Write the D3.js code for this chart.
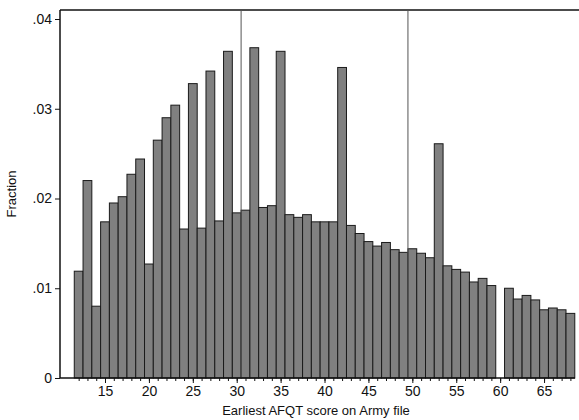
<!DOCTYPE html>
<html><head><meta charset="utf-8">
<script src="https://cdn.jsdelivr.net/npm/d3@7/dist/d3.min.js"></script>
<style>body{margin:0;background:#fff}svg{display:block;font-family:"Liberation Sans",Arial,sans-serif}</style>
</head><body>
<svg id="c" width="579" height="420"></svg>
<script>
const scores = d3.range(12, 69).filter(s => s !== 60);
const fractions = [
  0.0119,0.0220,0.0080,0.0174,0.0195,0.0202,0.0227,0.0244,0.0127,0.0265,
  0.0290,0.0304,0.0166,0.0328,0.0167,0.0342,0.0175,0.0364,0.0184,0.0187,
  0.0368,0.0190,0.0192,0.0364,0.0182,0.0179,0.0182,0.0174,0.0174,0.0174,
  0.0346,0.0170,0.0161,0.0152,0.0147,0.0151,0.0143,0.0140,0.0144,0.0139,
  0.0134,0.0261,0.0125,0.0121,0.0118,0.0107,0.0111,0.0103,
  0.0100,0.0088,0.0092,0.0087,0.0076,0.0078,0.0076,0.0072
];
const refLines = [30.5, 49.5];
const xTicks = [15,20,25,30,35,40,45,50,55,60,65];
const yTicks = [0,0.01,0.02,0.03,0.04];
const yTickLabels = ["0",".01",".02",".03",".04"];
const xTitle = "Earliest AFQT score on Army file";
const yTitle = "Fraction";

const data = scores.map((s,i)=>({s, v: fractions[i]}));
const svg = d3.select("#c");
const x = d3.scaleLinear().domain([9.875, 68.98]).range([60, 579]);
const y = d3.scaleLinear().domain([0, 0.04]).range([378, 19]);
const plotTop = 10;

// top border
svg.append("line").attr("x1",60).attr("x2",579).attr("y1",plotTop).attr("y2",plotTop)
  .attr("stroke","#111").attr("stroke-width",1.5);

// bars
svg.append("g").selectAll("rect").data(data).join("rect")
  .attr("x", d => x(d.s - 0.5))
  .attr("width", d => x(d.s + 0.5) - x(d.s - 0.5))
  .attr("y", d => y(d.v))
  .attr("height", d => y(0) - y(d.v))
  .attr("fill","#808080").attr("stroke","#1a1a1a").attr("stroke-width",1);

// reference lines
svg.append("g").selectAll("line").data(refLines).join("line")
  .attr("x1", d => x(d)).attr("x2", d => x(d))
  .attr("y1", plotTop).attr("y2", y(0))
  .attr("stroke","#555").attr("stroke-width",1);

// y axis
const yAxis = svg.append("g").attr("transform","translate(60,0)")
  .call(d3.axisLeft(y).tickValues(yTicks).tickFormat((d,i)=>yTickLabels[i]).tickSize(5).tickPadding(3));
yAxis.select(".domain").remove();
yAxis.append("line").attr("x1",0).attr("x2",0).attr("y1",plotTop).attr("y2",y(0))
  .attr("stroke","#111").attr("stroke-width",1.5);
yAxis.selectAll(".tick line").attr("stroke","#111");
yAxis.selectAll("text").attr("font-size",14).attr("fill","#111").attr("font-family","Liberation Sans, Arial, sans-serif");

// x axis
const xAxisG = svg.append("g").attr("transform",`translate(0,${y(0)})`);
xAxisG.append("g").call(d3.axisBottom(x).tickValues(d3.range(12,69)).tickFormat("").tickSize(3))
  .call(g => g.select(".domain").remove())
  .selectAll(".tick line").attr("stroke","#111");
const xa = xAxisG.append("g").call(d3.axisBottom(x).tickValues(xTicks).tickSize(5).tickPadding(3));
xa.select(".domain").remove();
xa.selectAll(".tick line").attr("stroke","#111");
xa.selectAll("text").attr("font-size",14).attr("fill","#111").attr("font-family","Liberation Sans, Arial, sans-serif");
xAxisG.append("line").attr("x1",60).attr("x2",575).attr("y1",0).attr("y2",0)
  .attr("stroke","#111").attr("stroke-width",1.5);

// titles
svg.append("text").attr("x", 316).attr("y", 415).attr("text-anchor","middle")
  .attr("font-size",13).attr("fill","#111").text(xTitle);
svg.append("text").attr("transform","translate(16,194) rotate(-90)").attr("text-anchor","middle")
  .attr("font-size",13).attr("fill","#111").text(yTitle);
</script>
</body></html>
